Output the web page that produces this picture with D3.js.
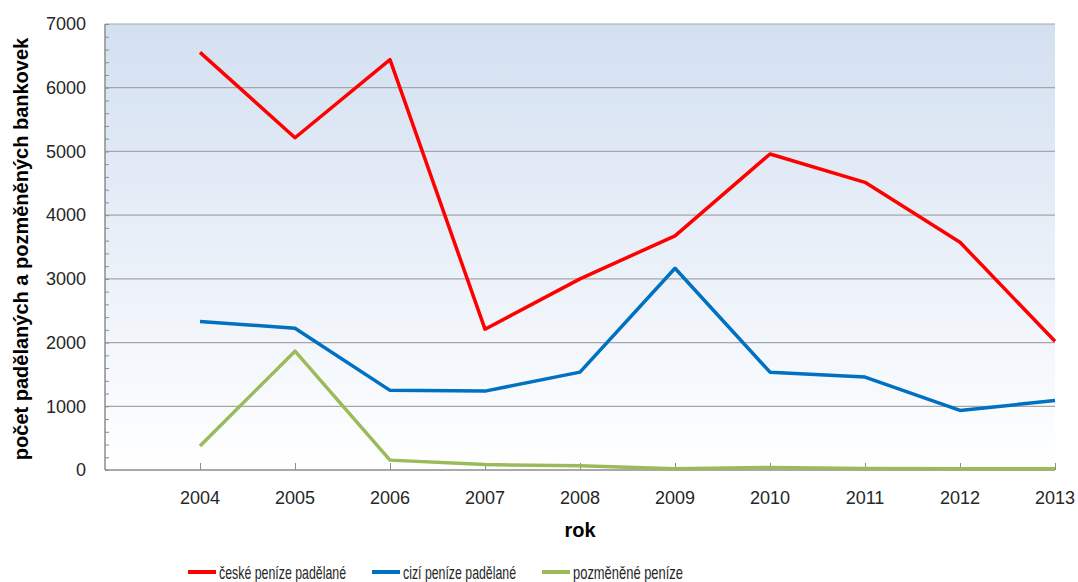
<!DOCTYPE html>
<html>
<head>
<meta charset="utf-8">
<script src="https://cdn.jsdelivr.net/npm/d3@7"></script>
<style>
  body { margin: 0; background: #fff; }
  svg { display: block; font-family: "Liberation Sans", Arial, sans-serif; }
</style>
</head>
<body>
<svg id="chart"></svg>
<script>
// data
var years = [2004, 2005, 2006, 2007, 2008, 2009, 2010, 2011, 2012, 2013];
var ceske = [6555, 5215, 6440, 2210, 3000, 3675, 4960, 4515, 3575, 2020];
var cizi = [2330, 2225, 1250, 1238, 1536, 3166, 1536, 1458, 935, 1090];
var pozmenene = [375, 1865, 155, 85, 65, 20, 40, 25, 20, 20];
var yTicks = [0, 1000, 2000, 3000, 4000, 5000, 6000, 7000];
var seriesNames = ["české peníze padělané", "cizí peníze padělané", "pozměněné peníze"];
var seriesColors = ["#ff0000", "#0070c0", "#9bbb59"];

const W = 1078, H = 582;
var margin = {left: 105, top: 24, right: 23, bottom: 112};

var svg = d3.select("#chart").attr("width", W).attr("height", H);

var x = d3.scaleLinear().domain([2003, 2013]).range([margin.left, W - margin.right]);
var y = d3.scaleLinear().domain([0, 7000]).range([H - margin.bottom, margin.top]);

// background gradient of the plot area
var defs = svg.append("defs");
var grad = defs.append("linearGradient").attr("id", "bg")
    .attr("x1", 0).attr("y1", 0).attr("x2", 0).attr("y2", 1);
grad.append("stop").attr("offset", "0%").attr("stop-color", "#d3e0f1");
grad.append("stop").attr("offset", "100%").attr("stop-color", "#ffffff");

svg.append("rect")
    .attr("x", x(2003)).attr("y", y(7000))
    .attr("width", x(2013) - x(2003)).attr("height", y(0) - y(7000))
    .attr("fill", "url(#bg)");

// gridlines
svg.append("g").selectAll("line").data(yTicks.slice(1)).join("line")
    .attr("x1", x(2003)).attr("x2", x(2013))
    .attr("y1", d => y(d)).attr("y2", d => y(d))
    .attr("stroke", "#a6a6a6").attr("stroke-width", 1.2);

// y axis with inner minor ticks
var yAxis = svg.append("g").attr("transform", "translate(" + x(2003) + ",0)");
yAxis.call(d3.axisRight(y).tickValues(d3.range(0, 7001, 200)).tickSize(4).tickFormat(""));
yAxis.select(".domain").remove();
yAxis.selectAll("line").attr("stroke", "#8c8c8c");
yAxis.append("line").attr("y1", y(0)).attr("y2", y(7000)).attr("stroke", "#8c8c8c").attr("stroke-width", 1.5);

svg.append("g").selectAll("text").data(yTicks).join("text")
    .attr("x", 86).attr("y", d => y(d)).attr("dy", "0.35em")
    .attr("text-anchor", "end").attr("font-size", 18).attr("fill", "#262626")
    .text(d => d);

// x axis, ticks pointing up into the plot
var xAxis = svg.append("g").attr("transform", "translate(0," + y(0) + ")");
xAxis.call(d3.axisTop(x).tickValues(years).tickSize(7).tickFormat(""));
xAxis.select(".domain").remove();
xAxis.selectAll("line").attr("stroke", "#8c8c8c");
xAxis.append("line").attr("x1", x(2003)).attr("x2", x(2013)).attr("stroke", "#8c8c8c").attr("stroke-width", 1.5);

svg.append("g").selectAll("text").data(years).join("text")
    .attr("x", d => x(d)).attr("y", 504)
    .attr("text-anchor", "middle").attr("font-size", 18).attr("fill", "#262626")
    .text(d => d);

// axis titles
svg.append("text").attr("x", x(2008)).attr("y", 537)
    .attr("text-anchor", "middle").attr("font-size", 20).attr("font-weight", "bold")
    .text("rok");
svg.append("text")
    .attr("transform", "translate(28," + 249 + ") rotate(-90)")
    .attr("text-anchor", "middle").attr("font-size", 20).attr("font-weight", "bold")
    .text("počet padělaných a pozměněných bankovek");

// lines
var line = d3.line().x((d, i) => x(years[i])).y(d => y(d));
[ceske, cizi, pozmenene].forEach(function(vals, k) {
    svg.append("path").datum(vals)
        .attr("d", line)
        .attr("fill", "none")
        .attr("stroke", seriesColors[k])
        .attr("stroke-width", 3.5)
        .attr("stroke-linejoin", "round");
});

// legend (narrow text like the original font)
var legX = [188, 372, 542];
var legW = [127, 113, 110];
var leg = svg.append("g").selectAll("g").data(seriesNames).join("g")
    .attr("transform", (d, i) => "translate(" + legX[i] + ",572)");
leg.append("line").attr("x1", 0).attr("x2", 28)
    .attr("stroke", (d, i) => seriesColors[i]).attr("stroke-width", 4);
leg.append("text").attr("x", 31).attr("dy", "0.36em")
    .attr("font-family", "'Liberation Sans Narrow', 'Liberation Sans', sans-serif")
    .attr("font-size", 19).attr("fill", "#262626")
    .attr("textLength", (d, i) => legW[i]).attr("lengthAdjust", "spacingAndGlyphs")
    .text(d => d);
</script>
</body>
</html>
